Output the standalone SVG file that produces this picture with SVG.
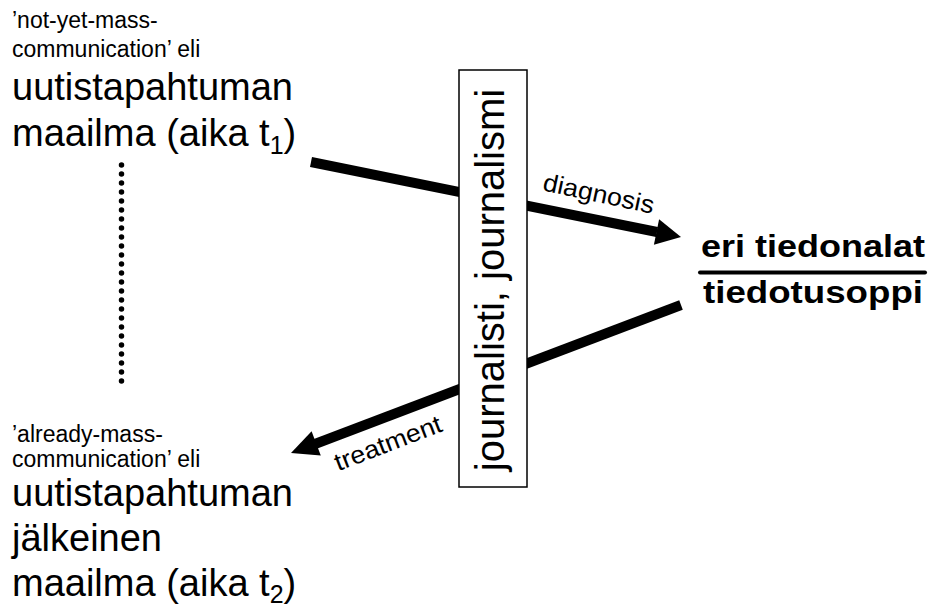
<svg xmlns="http://www.w3.org/2000/svg" width="930" height="610" viewBox="0 0 930 610">
<style>
.t{font-family:"Liberation Sans",Arial,sans-serif;fill:#000}
.s{font-size:23px}
.b{font-size:38px}
.sub{font-size:25px}
.lbl{font-size:25px}
.r{font-size:30.5px;font-weight:bold}
.shaft{stroke:#000;stroke-width:10;fill:none}
</style>
<rect width="930" height="610" fill="#fff"/>
<g id="connectors">
<line class="shaft" x1="311" y1="162" x2="657" y2="232"/>
<polygon points="681,237 653.9,244.7 659.1,219.3" fill="#000"/>
<line class="shaft" x1="681" y1="305" x2="315" y2="444"/>
<polygon points="291,453 311.6,431.2 320.8,455.6" fill="#000"/>
<line x1="121.5" y1="165" x2="121.5" y2="390" stroke="#000" stroke-width="5.5" stroke-linecap="round" stroke-dasharray="0 9"/>
<text class="t lbl" transform="translate(597,202) rotate(12)" text-anchor="middle" textLength="113" lengthAdjust="spacingAndGlyphs">diagnosis</text>
<text class="t lbl" transform="translate(391,451) rotate(-21)" text-anchor="middle" textLength="113" lengthAdjust="spacingAndGlyphs">treatment</text>
</g>
<g id="t1">
<text class="t s" x="12" y="28">’not-yet-mass-</text>
<text class="t s" x="12" y="57">communication’ eli</text>
<text class="t b" x="12" y="100">uutistapahtuman</text>
<text class="t b" x="12" y="146">maailma (aika t<tspan class="sub" dy="8">1</tspan><tspan dy="-8">)</tspan></text>
</g>
<g id="journalism">
<rect x="459" y="70" width="68" height="417" fill="#fff" stroke="#000" stroke-width="1.5"/>
<text class="t" font-size="40" transform="translate(504,280) rotate(-90)" text-anchor="middle">journalisti, journalismi</text>
</g>
<g id="fields">
<text class="t r" x="701" y="257" textLength="224" lengthAdjust="spacingAndGlyphs">eri tiedonalat</text>
<line x1="700" y1="272.5" x2="925" y2="272.5" stroke="#000" stroke-width="4" stroke-linecap="round"/>
<text class="t r" x="703" y="303" textLength="220" lengthAdjust="spacingAndGlyphs">tiedotusoppi</text>
</g>
<g id="t2">
<text class="t s" x="12" y="442">’already-mass-</text>
<text class="t s" x="12" y="467">communication’ eli</text>
<text class="t b" x="12" y="506">uutistapahtuman</text>
<text class="t b" x="12" y="551">jälkeinen</text>
<text class="t b" x="12" y="596">maailma (aika t<tspan class="sub" dy="7">2</tspan><tspan dy="-7">)</tspan></text>
</g>
</svg>
